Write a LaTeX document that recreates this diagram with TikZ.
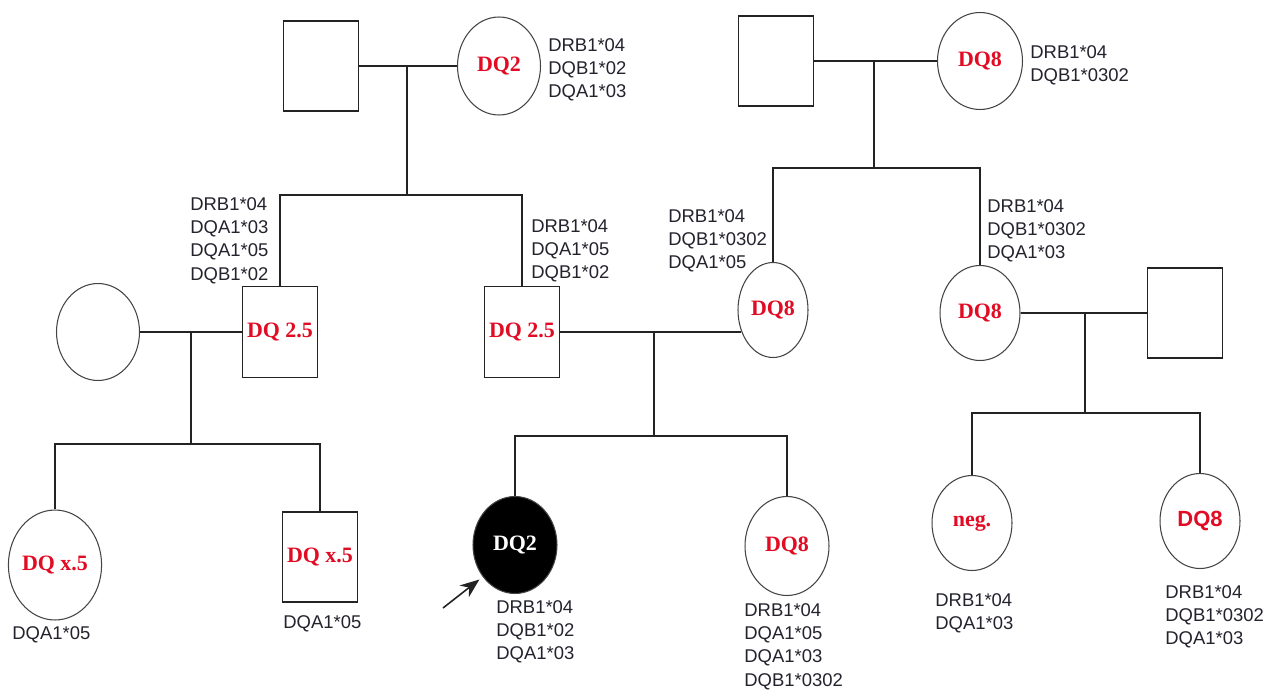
\documentclass[tikz,border=0pt]{standalone}
\usepackage{fontspec}
\setmainfont{Liberation Serif}
\newfontfamily\arialf{Liberation Sans}
\usetikzlibrary{shapes.geometric,arrows.meta}
\definecolor{dqred}{RGB}{225,12,35}
\definecolor{linec}{RGB}{35,35,35}
\definecolor{genec}{RGB}{35,35,45}
\begin{document}
\begin{tikzpicture}[x=0.02cm,y=-0.02cm,
  namefont/.style={font=\fontsize{12.5}{14}\selectfont\bfseries},
  male/.style={draw=linec, line width=0.8pt, rectangle, minimum width=1.5cm, minimum height=1.8cm, inner sep=0pt, namefont, text=dqred},
  fem/.style 2 args={draw=linec!85, line width=0.6pt, ellipse, inner sep=0pt, minimum width=#1, minimum height=#2, namefont, text=dqred},
  gene/.style={anchor=north west, inner sep=0pt, align=left, text=genec, font=\arialf\fontsize{10.5}{13.3}\selectfont},
  link/.style={draw=linec, line width=0.75pt}]
\useasboundingbox[fill=white] (0,0) rectangle (1271,693);

% generation I
\node[male] (sqA) at (321,66) {};
\node[fem={1.66cm}{1.96cm}] (cA) at (499,66) {DQ2};
\node[gene] (gA) at (548,38) {DRB1*04\\DQB1*02\\DQA1*03};
\node[male] (sqB) at (776,61) {};
\node[fem={1.7cm}{1.94cm}] (cB) at (980,61) {DQ8};
\node[gene] (gB) at (1030,45) {DRB1*04\\DQB1*0302};

% generation II
\node[fem={1.66cm}{1.94cm}] (cL) at (98,332) {};
\node[male, minimum height=1.82cm] (bA) at (280,332) {DQ 2.5};
\node[gene] (gbA) at (190,197) {DRB1*04\\DQA1*03\\DQA1*05\\DQB1*02};
\node[male, minimum height=1.82cm] (bB) at (522,332) {DQ 2.5};
\node[gene] (gbB) at (531,219) {DRB1*04\\DQA1*05\\DQB1*02};
\node[fem={1.4cm}{1.9cm}] (cM) at (773,310) {DQ8};
\node[gene] (gM) at (668,209) {DRB1*04\\DQB1*0302\\DQA1*05};
\node[fem={1.6cm}{1.9cm}] (cN) at (980,313) {DQ8};
\node[gene] (gN) at (987,199) {DRB1*04\\DQB1*0302\\DQA1*03};
\node[male] (sqC) at (1185,313) {};

% generation III
\node[fem={1.64cm}{2.2cm}] (cX) at (55,565) {DQ x.5};
\node[gene] (gX) at (12,626) {DQA1*05};
\node[male] (bX) at (320,557) {DQ x.5};
\node[gene] (gbX) at (283,615) {DQA1*05};
\node[fem={1.68cm}{1.94cm}, fill=black, text=white] (cP) at (515,545) {DQ2};
\node[gene] (gP) at (496,600) {DRB1*04\\DQB1*02\\DQA1*03};
\node[fem={1.68cm}{1.98cm}] (cQ) at (787,546) {DQ8};
\node[gene] (gQ) at (744,603) {DRB1*04\\DQA1*05\\DQA1*03\\DQB1*0302};
\node[fem={1.6cm}{1.9cm}] (cR) at (972,523) {\raisebox{0.5ex}{neg.}};
\node[gene] (gR) at (935,593) {DRB1*04\\DQA1*03};
\node[fem={1.6cm}{1.9cm}, font=\arialf\fontsize{12.5}{14}\selectfont\bfseries] (cS) at (1200,521) {DQ8};
\node[gene] (gS) at (1165,585) {DRB1*04\\DQB1*0302\\DQA1*03};

% connectors
\coordinate (mA) at (407,66);
\coordinate (sA) at (407,195);
\draw[link] (sqA.east) -- (cA.west);
\draw[link] (mA) -- (sA);
\draw[link] (bA.north) |- (sA) -| (bB.north);

\coordinate (mB) at (874,61);
\coordinate (sB) at (874,168);
\draw[link] (sqB.east) -- (cB.west);
\draw[link] (mB) -- (sB);
\draw[link] (cM.north) |- (sB) -| (cN.north);

\coordinate (mL) at (191,332);
\coordinate (sL) at (191,444);
\draw[link] (cL.east) -- (bA.west);
\draw[link] (mL) -- (sL);
\draw[link] (cX.north) |- (sL) -| (bX.north);

\coordinate (mC) at (654,332);
\coordinate (sC) at (654,436);
\draw[link] (bB.east) -- (bB.east -| cM.215);
\draw[link] (mC) -- (sC);
\draw[link] (cP.north) |- (sC) -| (cQ.north);

\coordinate (mD) at (1085,313);
\coordinate (sD) at (1085,413);
\draw[link] (cN.east) -- (sqC.west);
\draw[link] (mD) -- (sD);
\draw[link] (cR.north) |- (sD) -| (cS.north);

\coordinate (arT) at (443,608);
\draw[linec, line width=0.9pt, -{Stealth[length=11pt,width=8.5pt]}] (arT) -- ([shift={(-3,3)}]cP.224);
\end{tikzpicture}
\end{document}
